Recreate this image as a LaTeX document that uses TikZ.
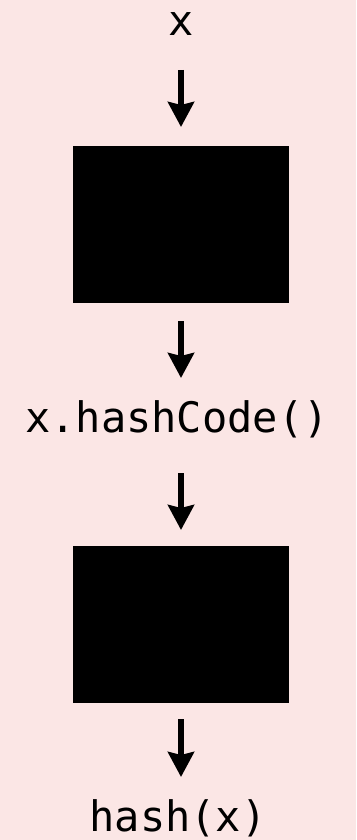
\documentclass[tikz,border=0pt]{standalone}
\usepackage{fontspec}
\newfontfamily\codefont{DejaVu Sans Mono}
\usetikzlibrary{arrows.meta}
\definecolor{bgpink}{RGB}{251,230,229}
\tikzset{
  codetext/.style={font=\codefont\fontsize{42}{50}\selectfont, anchor=base, inner sep=0pt},
  blackbox/.style={fill=black, draw=none},
  downarrow/.style={line width=5.5pt, -{Stealth[length=25pt,width=26pt,inset=3pt]}}
}
\begin{document}
\begin{tikzpicture}[x=1pt,y=-1pt]
  \fill[bgpink] (0,0) rectangle (356,840);
  \useasboundingbox (0,0) rectangle (356,840);
  \node[codetext] (tx) at (181,36) {x};
  \node[codetext] (thc) at (177,432) {x.hashCode()};
  \node[codetext] (th) at (178,831) {hash(x)};
  \path[blackbox] (73,146) rectangle (289,303);
  \path[blackbox] (73,546) rectangle (289,703);
  \node[inner sep=0pt, minimum width=216pt, minimum height=157pt] (b1) at (181,224.5) {};
  \node[inner sep=0pt, minimum width=216pt, minimum height=157pt] (b2) at (181,624.5) {};
  \coordinate (a1s) at (181,70);  \coordinate (a1e) at (181,127);
  \coordinate (a2s) at (181,321); \coordinate (a2e) at (181,378);
  \coordinate (a3s) at (181,473); \coordinate (a3e) at (181,530);
  \coordinate (a4s) at (181,719); \coordinate (a4e) at (181,777);
  \draw[downarrow] (a1s) -- (a1e);
  \draw[downarrow] (a2s) -- (a2e);
  \draw[downarrow] (a3s) -- (a3e);
  \draw[downarrow] (a4s) -- (a4e);
\end{tikzpicture}
\end{document}
